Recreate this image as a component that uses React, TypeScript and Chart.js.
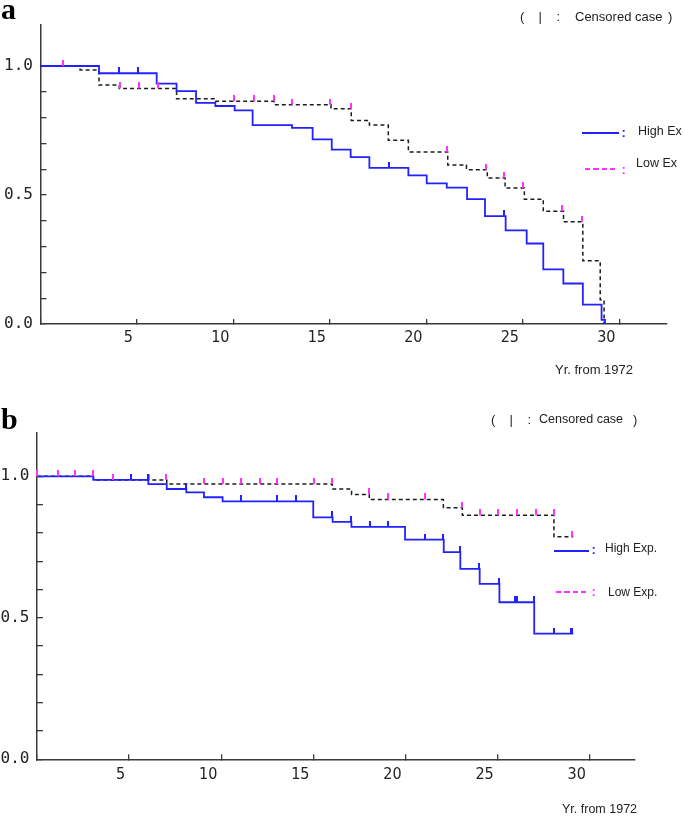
import React, { useEffect, useRef } from "react";
import { Chart, registerables } from "chart.js";

Chart.register(...registerables);

// ---------------- Panel a ----------------
const aHighTimes = [0, 3.03, 6.02, 7.05, 8.06, 9.06, 10.06, 10.99, 13.03, 14.1, 15.09, 16.07, 17.04, 19.06, 20.01, 21.05, 22.1, 23.03, 24.1, 25.19, 26.05, 27.09, 28.1, 29.07, 29.25];
const aHighSurv = [1.0, 0.972, 0.932, 0.903, 0.857, 0.845, 0.828, 0.771, 0.76, 0.716, 0.676, 0.647, 0.605, 0.576, 0.545, 0.529, 0.484, 0.418, 0.363, 0.312, 0.212, 0.157, 0.075, 0.016, 0];
const aHighCensored = [4.08, 5.03, 18.07, 24.02];

const aLowTimes = [0, 2.05, 3.03, 4.08, 7.05, 9.06, 12.1, 15.05, 16.1, 17.04, 18.02, 19.06, 21.1, 22.07, 23.15, 24.07, 25.07, 26.05, 27.1, 28.1, 29.0, 29.2];
const aLowSurv = [1.0, 0.985, 0.926, 0.913, 0.873, 0.863, 0.85, 0.834, 0.789, 0.771, 0.712, 0.667, 0.616, 0.598, 0.566, 0.527, 0.484, 0.437, 0.396, 0.245, 0.094, 0];
const aLowCensored = [1.15, 4.1, 5.09, 6.1, 10.0, 11.05, 12.08, 13.03, 15.0, 16.07, 21.05, 23.1, 24.02, 25.02, 27.04, 28.04];

// ---------------- Panel b ----------------
const bHighTimes = [0, 3.06, 6.04, 7.04, 8.1, 9.06, 10.07, 14.99, 16.04, 17.06, 19.97, 22.07, 22.97, 24.02, 25.09, 26.98, 29.1];
const bHighSurv = [1.0, 0.987, 0.972, 0.955, 0.943, 0.926, 0.911, 0.855, 0.839, 0.821, 0.776, 0.732, 0.673, 0.62, 0.555, 0.444, 0.444];
const bHighCensored = [5.08, 6.0, 8.06, 11.07, 13.04, 14.05, 16.0, 17.04, 18.07, 19.06, 21.05, 22.05, 22.95, 24.0, 25.05, 25.95, 26.02, 26.96, 28.05, 28.95, 29.05];

const bLowTimes = [0, 3.06, 7.04, 16.02, 17.07, 18.03, 22.05, 23.08, 28.05, 29.1];
const bLowSurv = [1.0, 0.987, 0.973, 0.955, 0.936, 0.918, 0.889, 0.862, 0.786, 0.786];
const bLowCensored = [0, 1.16, 2.06, 3.04, 4.1, 6.1, 7.02, 9.06, 10.07, 11.07, 12.1, 13.04, 15.03, 16.0, 18.0, 19.06, 21.05, 23.06, 24.02, 25.03, 26.06, 27.06, 28.03, 29.01];

// ---------------- Axis ticks / labels ----------------
const xTickStep = 5;
const yTickStep = 0.1;
const yTickTop = 1.0;
const yLabelValues = [0, 0.5, 1.0];
const xAxisLabel = "Yr. from 1972";
const seriesNamesA = ["High Ex", "Low Ex"];
const seriesNamesB = ["High Exp.", "Low Exp."];
const censorNote = "Censored case";

const BLUE = "rgb(34,34,255)";
const MAGENTA = "rgb(255,50,255)";
const BLACK = "#1c1c1c";
const AXIS = "#3a3a3a";

type Pt = { x: number; y: number };

function stepPoints(times: number[], surv: number[]): Pt[] {
  return times.map((t, i) => ({ x: t, y: surv[i] }));
}

function censorPoints(times: number[], surv: number[], cens: number[]): Pt[] {
  return cens.map((c) => {
    let lvl = surv[0];
    for (let i = 0; i < times.length; i++) if (times[i] < c) lvl = surv[i];
    return { x: c, y: lvl };
  });
}

function makeTick(color: string, w: number, h: number) {
  const c = document.createElement("canvas");
  c.width = w;
  c.height = h * 2;
  const ctx = c.getContext("2d")!;
  ctx.fillStyle = color;
  ctx.fillRect(0, 0, w, h);
  return c;
}

type PanelSpec = {
  width: number;
  height: number;
  xMax: number;
  yMax: number;
  yAxisW: number;
  xAxisH: number;
  padTop: number;
  padRight: number;
  xLabelPad: number;
  high: [number[], number[], number[]];
  low: [number[], number[], number[]];
};

function KMChart({ spec }: { spec: PanelSpec }) {
  const ref = useRef<HTMLCanvasElement | null>(null);
  useEffect(() => {
    if (!ref.current) return;
    const [hT, hS, hC] = spec.high;
    const [lT, lS, lC] = spec.low;
    const blueTick = makeTick(BLUE, 2, 6);
    const magTick = makeTick(MAGENTA, 2, 6);
    const chart = new Chart(ref.current, {
      type: "line",
      data: {
        datasets: [
          {
            data: censorPoints(hT, hS, hC),
            showLine: false,
            pointStyle: blueTick as any,
            pointRadius: 3,
            order: 1,
            clip: 10,
          } as any,
          {
            data: censorPoints(lT, lS, lC),
            showLine: false,
            pointStyle: magTick as any,
            pointRadius: 3,
            order: 1,
            clip: 10,
          } as any,
          {
            data: stepPoints(lT, lS),
            stepped: true,
            borderColor: BLACK,
            borderWidth: 1.5,
            borderDash: [4, 3],
            pointRadius: 0,
            fill: false,
            order: 3,
            clip: 4,
          } as any,
          {
            data: stepPoints(hT, hS),
            stepped: true,
            borderColor: BLUE,
            borderWidth: 1.8,
            pointRadius: 0,
            fill: false,
            order: 2,
            clip: 4,
          } as any,
        ],
      },
      options: {
        animation: false,
        responsive: false,
        events: [],
        layout: { padding: { left: 0, top: spec.padTop, right: spec.padRight, bottom: 0 } },
        plugins: { legend: { display: false }, tooltip: { enabled: false }, title: { display: false } },
        scales: {
          x: {
            type: "linear",
            min: 0,
            max: spec.xMax,
            afterFit: (s: any) => {
              s.height = spec.xAxisH;
            },
            grid: { display: true, drawOnChartArea: false, drawTicks: true, tickLength: -5, color: AXIS, lineWidth: 1.3 },
            border: { display: true, color: AXIS, width: 1.5 },
            ticks: {
              stepSize: xTickStep,
              includeBounds: false,
              autoSkip: false,
              maxRotation: 0,
              minRotation: 0,
              align: "end",
              labelOffset: -4,
              padding: spec.xLabelPad,
              color: "#222",
              font: { family: "'DejaVu Sans Condensed', 'Liberation Sans'", size: 16 },
              callback: (v: any) => (Number(v) === 0 ? "" : String(Math.round(Number(v)))),
            },
          } as any,
          y: {
            type: "linear",
            min: 0,
            max: spec.yMax,
            afterFit: (s: any) => {
              s.width = spec.yAxisW;
            },
            afterBuildTicks: (s: any) => {
              s.ticks = s.ticks.filter((t: any) => t.value <= yTickTop + 1e-4);
            },
            grid: { display: true, drawOnChartArea: false, drawTicks: true, tickLength: -6, color: AXIS, lineWidth: 1.3 },
            border: { display: true, color: AXIS, width: 1.5 },
            ticks: {
              stepSize: yTickStep,
              includeBounds: false,
              autoSkip: false,
              padding: 13.5,
              color: "#222",
              font: { family: "'DejaVu Sans Mono'", size: 16 },
              callback: (v: any) => {
                const k = Math.round(Number(v) * 10);
                return yLabelValues.some((l) => Math.round(l * 10) === k) ? (k / 10).toFixed(1) : "";
              },
            },
          } as any,
        },
      },
    });
    return () => chart.destroy();
  }, [spec]);
  return <canvas ref={ref} width={spec.width} height={spec.height} style={{ display: "block" }} />;
}

const specA: PanelSpec = {
  width: 685,
  height: 400,
  xMax: 32.46,
  yMax: 1.159,
  yAxisW: 40.5,
  xAxisH: 76,
  padTop: 25,
  padRight: 18,
  xLabelPad: 9.4,
  high: [aHighTimes, aHighSurv, aHighCensored],
  low: [aLowTimes, aLowSurv, aLowCensored],
};

const specB: PanelSpec = {
  width: 685,
  height: 416,
  xMax: 32.41,
  yMax: 1.154,
  yAxisW: 37,
  xAxisH: 56.7,
  padTop: 32.7,
  padRight: 50.7,
  xLabelPad: 11.1,
  high: [bHighTimes, bHighSurv, bHighCensored],
  low: [bLowTimes, bLowSurv, bLowCensored],
};

const SANS = "'Liberation Sans', Arial, sans-serif";

function T(props: { x: number; y: number; size: number; color?: string; bold?: boolean; family?: string; children: React.ReactNode }) {
  return (
    <div
      style={{
        position: "absolute",
        left: props.x,
        top: props.y,
        fontSize: props.size,
        lineHeight: 1,
        whiteSpace: "nowrap",
        color: props.color || "#222",
        fontWeight: props.bold ? "bold" : "normal",
        fontFamily: props.family || SANS,
      }}
    >
      {props.children}
    </div>
  );
}

function Line(props: { x: number; y: number; w: number; color: string; dashed?: boolean }) {
  return (
    <div
      style={{
        position: "absolute",
        left: props.x,
        top: props.y,
        width: props.w,
        height: 2,
        background: props.dashed
          ? `repeating-linear-gradient(to right, ${props.color} 0 5px, transparent 5px 8.5px)`
          : props.color,
      }}
    />
  );
}

export default function App() {
  return (
    <div style={{ position: "absolute", left: 0, top: 0, width: 685, height: 816, background: "#fff", overflow: "hidden" }}>
      <div style={{ position: "absolute", left: 0, top: 0 }}>
        <KMChart spec={specA} />
      </div>
      <div style={{ position: "absolute", left: 0, top: 400 }}>
        <KMChart spec={specB} />
      </div>

      {/* Panel a texts */}
      <T x={1} y={-5.6} size={30} bold family="'Liberation Serif', serif" color="#000">a</T>
      <T x={520} y={10.3} size={13}>(</T>
      <T x={538.5} y={10.3} size={13}>|</T>
      <T x={556.5} y={10.3} size={13}>:</T>
      <T x={575} y={10.3} size={13}>{censorNote}</T>
      <T x={668} y={10.3} size={13}>)</T>
      <Line x={582} y={132.3} w={37} color={BLUE} />
      <T x={621.5} y={126.4} size={13} color={BLUE} bold>:</T>
      <T x={638} y={125} size={12.5}>{seriesNamesA[0]}</T>
      <Line x={585} y={168.3} w={34} color={MAGENTA} dashed />
      <T x={621.5} y={163.4} size={13} color={MAGENTA} bold>:</T>
      <T x={636} y={156.6} size={12.5}>{seriesNamesA[1]}</T>
      <T x={555} y={363} size={13}>{xAxisLabel}</T>

      {/* Panel b texts */}
      <T x={1} y={403.9} size={30} bold family="'Liberation Serif', serif" color="#000">b</T>
      <T x={491} y={413} size={13}>(</T>
      <T x={509.5} y={413} size={13}>|</T>
      <T x={527.5} y={413} size={13}>:</T>
      <T x={539} y={413} size={12.5}>{censorNote}</T>
      <T x={633} y={413} size={13}>)</T>
      <Line x={554} y={550} w={35} color={BLUE} />
      <T x={591.5} y={543} size={13} color={BLUE} bold>:</T>
      <T x={605} y={542} size={12}>{seriesNamesB[0]}</T>
      <Line x={556} y={590.7} w={33} color={MAGENTA} dashed />
      <T x={591.5} y={584.5} size={13} color={MAGENTA} bold>:</T>
      <T x={608} y={586} size={12}>{seriesNamesB[1]}</T>
      <T x={562} y={803.3} size={12.5}>{xAxisLabel}</T>
    </div>
  );
}
